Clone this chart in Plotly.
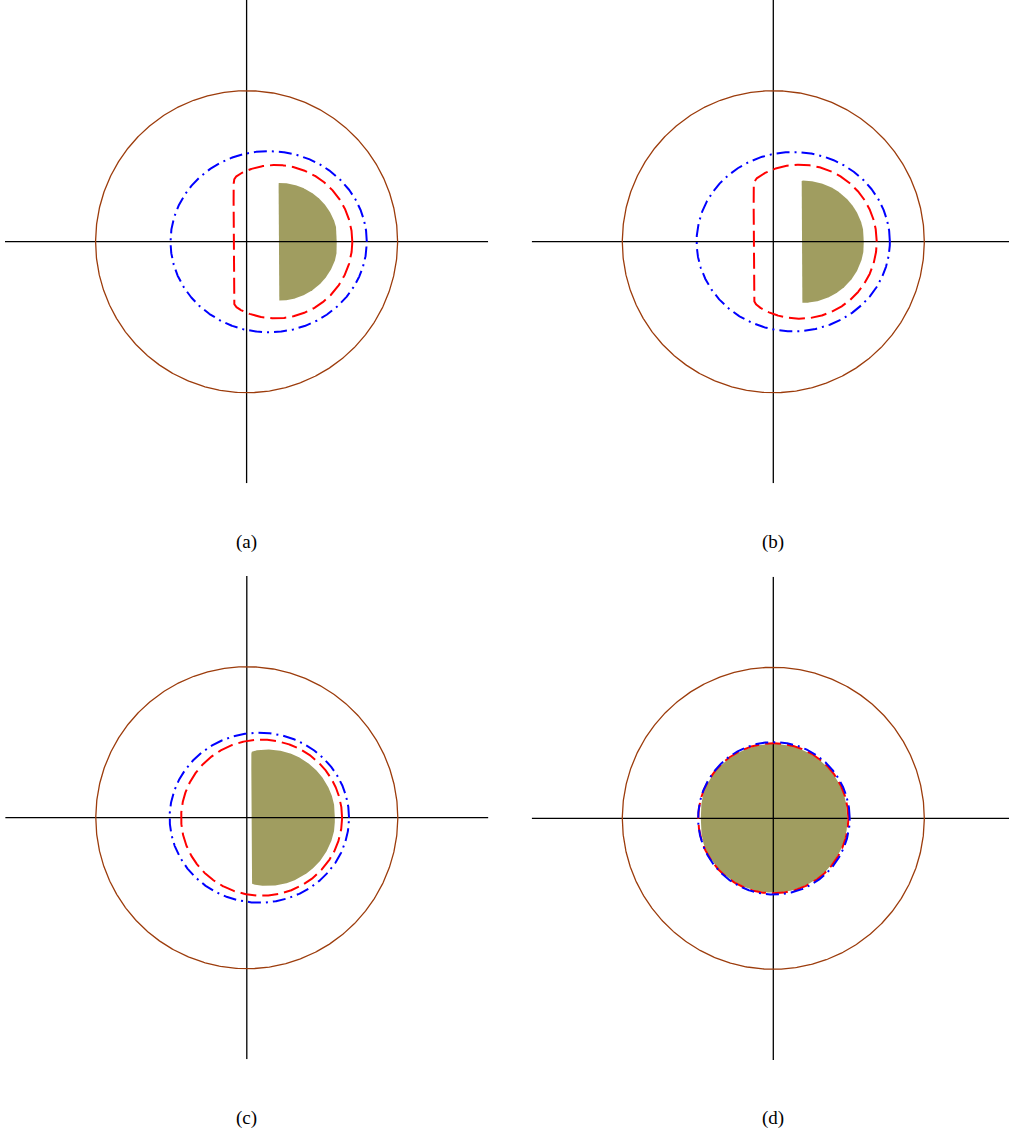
import numpy as np
import plotly.graph_objects as go

# Figure size in pixels
W, H = 1009, 1137

# Panel labels and the pixel position of each panel's origin
panel_labels = ["(a)", "(b)", "(c)", "(d)"]
origin_x_px = [246.6, 773.3, 246.8, 773.3]
origin_y_px = [241.7, 241.7, 817.7, 818.3]
px_per_unit = 151.0
axis_half = 1.6

# Outer boundary: unit circle
outer_radius = [1.0, 1.0, 1.0, 1.0]

# Dash-dot blue curve (oval): centre x, semi-axes
blue_cx = [0.146, 0.132, 0.083, 0.004]
blue_rx = [0.650, 0.640, 0.594, 0.502]
blue_ry = [0.600, 0.594, 0.563, 0.505]

# Dashed red curve: oval cut off on the left by a vertical side
red_cx = [0.192, 0.175, 0.098, 0.000]
red_rx = [0.508, 0.510, 0.533, 0.497]
red_ry = [0.508, 0.510, 0.517, 0.497]
red_xl = [-0.086, -0.130, -0.700, -0.700]

# Filled region: disc cut on the left (and slightly on the right)
olive_cx = [0.215, 0.198, 0.135, 0.000]
olive_r = [0.390, 0.405, 0.452, 0.493]
olive_xl = [0.212, 0.188, 0.030, -0.485]
olive_xr = [0.597, 0.600, 0.584, 0.490]

BROWN = "#9c3c0c"
OLIVE = "#a09d60"
BLUE = "#0000ff"
RED = "#ff0000"


def clipped_oval(cx, rx, ry, xl, xr, soft_l, soft_r):
    t = np.linspace(0, 2 * np.pi, 1441)
    x = cx + rx * np.cos(t)
    y = ry * np.sin(t)
    # smooth max / min give slightly rounded corners where the oval is cut
    x = xl + soft_l * np.logaddexp(0, (x - xl) / soft_l)
    x = xr - soft_r * np.logaddexp(0, (xr - x) / soft_r)
    return x, y


fig = go.Figure()
layout_axes = {}

for i in range(4):
    n = "" if i == 0 else str(i + 1)
    xa, ya = "x" + n, "y" + n

    # axis domains / ranges so that every panel keeps the same scale
    cx, cy = origin_x_px[i], origin_y_px[i]
    left = max(cx - axis_half * px_per_unit, 0)
    right = min(cx + axis_half * px_per_unit, W)
    top = max(cy - axis_half * px_per_unit, 0)
    bottom = min(cy + axis_half * px_per_unit, H)
    layout_axes["xaxis" + n] = dict(
        domain=[left / W, right / W],
        range=[(left - cx) / px_per_unit, (right - cx) / px_per_unit],
        visible=False, fixedrange=True, anchor=ya,
    )
    layout_axes["yaxis" + n] = dict(
        domain=[1 - bottom / H, 1 - top / H],
        range=[(cy - bottom) / px_per_unit, (cy - top) / px_per_unit],
        visible=False, fixedrange=True, anchor=xa,
    )

    # filled region
    ox, oy = clipped_oval(olive_cx[i], olive_r[i], olive_r[i],
                          olive_xl[i], olive_xr[i], 0.012, 0.003)
    fig.add_trace(go.Scatter(x=ox, y=oy, mode="lines", fill="toself",
                             fillcolor=OLIVE, line=dict(width=0, color=OLIVE),
                             xaxis=xa, yaxis=ya, hoverinfo="skip"))

    # coordinate axes
    fig.add_trace(go.Scatter(x=[-axis_half, axis_half], y=[0, 0], mode="lines",
                             line=dict(color="black", width=1.3),
                             xaxis=xa, yaxis=ya, hoverinfo="skip"))
    fig.add_trace(go.Scatter(x=[0, 0], y=[-axis_half, axis_half], mode="lines",
                             line=dict(color="black", width=1.3),
                             xaxis=xa, yaxis=ya, hoverinfo="skip"))

    # outer circle
    t = np.linspace(0, 2 * np.pi, 721)
    fig.add_trace(go.Scatter(x=outer_radius[i] * np.cos(t),
                             y=outer_radius[i] * np.sin(t), mode="lines",
                             line=dict(color=BROWN, width=1.3),
                             xaxis=xa, yaxis=ya, hoverinfo="skip"))

    # red dashed curve
    rx, ry = clipped_oval(red_cx[i], red_rx[i], red_ry[i],
                          red_xl[i], 5.0, 0.016, 0.01)
    fig.add_trace(go.Scatter(x=rx, y=ry, mode="lines",
                             line=dict(color=RED, width=2, dash="16px,6px"),
                             xaxis=xa, yaxis=ya, hoverinfo="skip"))

    # blue dash-dot curve
    t = np.linspace(0, 2 * np.pi, 1441)
    fig.add_trace(go.Scatter(x=blue_cx[i] + blue_rx[i] * np.cos(t),
                             y=blue_ry[i] * np.sin(t), mode="lines",
                             line=dict(color=BLUE, width=2,
                                       dash="13px,5px,2px,5px"),
                             xaxis=xa, yaxis=ya, hoverinfo="skip"))

annotations = []
for i in range(4):
    annotations.append(dict(
        text=panel_labels[i], xref="paper", yref="paper",
        x=origin_x_px[i] / W, y=1 - (origin_y_px[i] + 300) / H,
        xanchor="center", yanchor="middle", showarrow=False,
        font=dict(family="Liberation Serif", size=19, color="black"),
    ))

fig.update_layout(
    width=W, height=H,
    margin=dict(l=0, r=0, t=0, b=0),
    paper_bgcolor="white", plot_bgcolor="white",
    showlegend=False,
    annotations=annotations,
    **layout_axes,
)

fig.write_html("out.html")
